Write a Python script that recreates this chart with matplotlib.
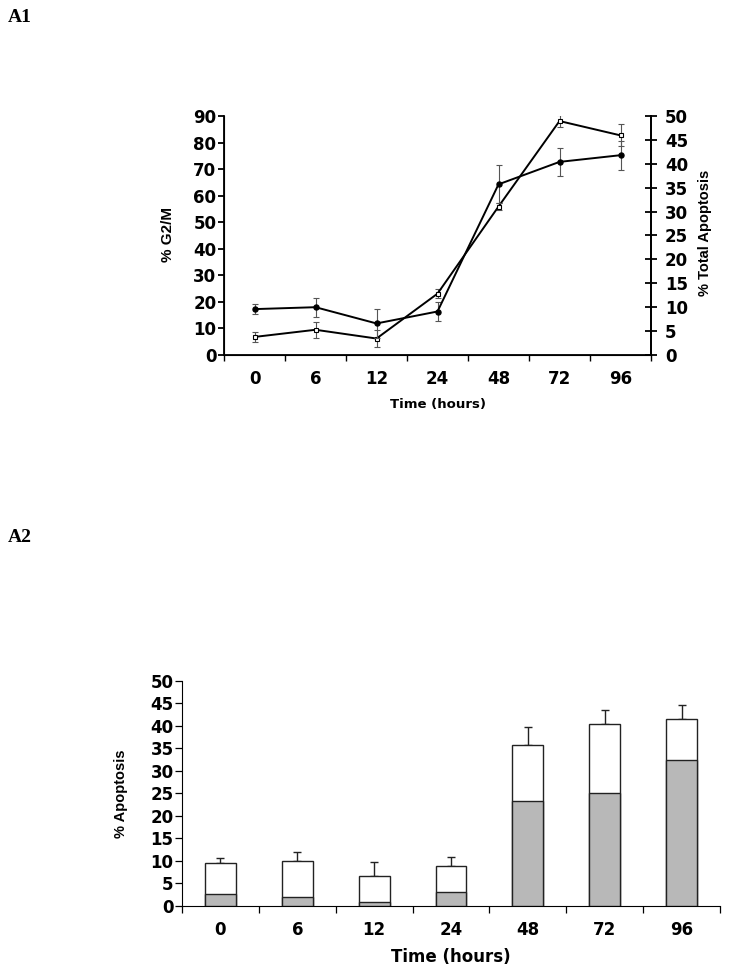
import numpy as np
from matplotlib import pyplot as plt

plt.rcParams['font.family'] = ['DejaVu Sans']

hours = ['0', '6', '12', '24', '48', '72', '96']

# A1: % G2/M (open squares, left axis) and % total apoptosis (filled circles, right axis)
g2m = [6.8, 9.5, 6.2, 23.1, 55.9, 88.1, 82.7]
g2m_err = [2.0, 3.0, 3.1, 1.7, 1.3, 2.2, 4.1]
tot_apo = [9.6, 10.0, 6.6, 9.1, 35.7, 40.4, 41.8]
tot_apo_err = [1.05, 2.0, 3.0, 1.9, 4.0, 3.0, 3.0]

# A2: stacked apoptosis bars
apo_dark = [2.6, 1.9, 0.95, 3.0, 23.4, 25.0, 32.3]
apo_total = [9.6, 9.9, 6.6, 8.95, 35.65, 40.4, 41.6]
apo_err = [0.95, 2.0, 3.1, 2.0, 4.0, 3.0, 3.1]

tick_font = dict(family='DejaVu Sans', weight='bold', size=12)

fig = plt.figure(figsize=(7.29, 9.71), dpi=100)
x = np.arange(len(hours))
bounds = np.arange(len(hours) + 1) - 0.5


def bold_ticks(axis_obj):
    for lab in axis_obj.get_xticklabels() + axis_obj.get_yticklabels():
        lab.set_fontproperties(tick_font)


# ---- A1 ----
ax = fig.add_axes([224/729, 1 - 355/971, 427/729, 239/971])
ax.errorbar(x, g2m, yerr=g2m_err, color='black', lw=1.4, marker='s', ms=3.2,
            mfc='white', mec='black', mew=0.8, ecolor='#555555', elinewidth=0.8,
            capsize=2.5, capthick=0.8, zorder=3)
ax.set_xlim(-0.5, len(hours) - 0.5)
ax.set_ylim(0, 90)
ax.set_yticks(range(0, 91, 10))
ax.set_xticks(x)
ax.set_xticklabels(hours)
ax.set_xticks(bounds, minor=True)
ax.tick_params(axis='x', which='major', length=0, pad=11)
ax.tick_params(axis='x', which='minor', length=4, width=1, direction='out')
ax.tick_params(axis='y', length=4.5, width=1.3, direction='out', pad=1)
bold_ticks(ax)
ax.set_ylabel('% G2/M', family='Liberation Sans', fontsize=11, fontweight='bold')
ax.yaxis.set_label_coords(-0.115, 0.505)
ax.set_xlabel('Time (hours)', family='DejaVu Sans', fontsize=9.5, fontweight='bold')
ax.xaxis.set_label_coords(0.5, -0.18)
ax.spines['top'].set_visible(False)
for s in ['left', 'bottom', 'right']:
    ax.spines[s].set_linewidth(1.3)

ax2 = ax.twinx()
ax2.errorbar(x, tot_apo, yerr=tot_apo_err, color='black', lw=1.4, marker='o', ms=3.6,
             mfc='black', mec='black', ecolor='#555555', elinewidth=0.8,
             capsize=2.5, capthick=0.8, zorder=3)
ax2.set_ylim(0, 50)
ax2.set_yticks(range(0, 51, 5))
ax2.tick_params(axis='y', length=8, width=1.3, direction='inout', pad=6)
bold_ticks(ax2)
ax2.set_ylabel('% Total Apoptosis', family='Liberation Sans', fontsize=10.5,
               fontweight='bold')
ax2.yaxis.set_label_coords(1.110, 0.51)
ax2.spines['top'].set_visible(False)
ax2.spines['right'].set_linewidth(1.3)

# ---- A2 ----
bx = fig.add_axes([182/729, 1 - 906/971, 538/729, 225.3/971])
w = 0.4
bx.bar(x, apo_total, width=w, color='white', edgecolor='#222222', lw=1.0, zorder=2)
bx.bar(x, apo_dark, width=w, color='#b8b8b8', edgecolor='#222222', lw=1.0, zorder=3)
bx.errorbar(x, apo_total, yerr=[np.zeros(len(x)), apo_err], fmt='none',
            ecolor='#222222', elinewidth=1.0, capsize=3, capthick=1.0, zorder=1)
bx.set_xlim(-0.5, len(hours) - 0.5)
bx.set_ylim(0, 50)
bx.set_yticks(range(0, 51, 5))
bx.set_xticks(x)
bx.set_xticklabels(hours)
bx.set_xticks(bounds, minor=True)
bx.tick_params(axis='x', which='major', length=0, pad=11)
bx.tick_params(axis='x', which='minor', length=5, width=0.9, direction='out')
bx.tick_params(axis='y', length=5, width=0.9, direction='out', pad=1)
bold_ticks(bx)
bx.set_ylabel('% Apoptosis', family='Liberation Sans', fontsize=10.5, fontweight='bold')
bx.yaxis.set_label_coords(-0.100, 0.50)
bx.set_xlabel('Time (hours)', family='DejaVu Sans', fontsize=12, fontweight='bold')
bx.xaxis.set_label_coords(0.5, -0.186)
bx.spines['top'].set_visible(False)
bx.spines['right'].set_visible(False)

fig.text(8/729, 1 - 18/971, 'A1', fontsize=14, fontweight='bold',
         family='Liberation Serif', va='center', ha='left')
fig.text(8/729, 1 - 538/971, 'A2', fontsize=14, fontweight='bold',
         family='Liberation Serif', va='center', ha='left')

fig.savefig('out.png', dpi=100)
